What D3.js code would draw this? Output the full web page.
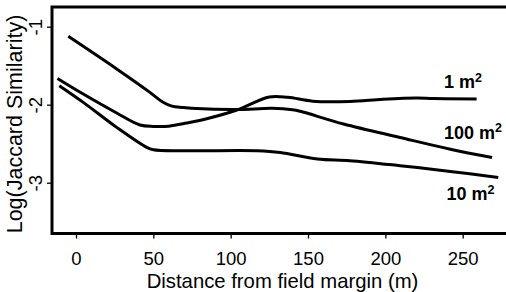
<!DOCTYPE html>
<html>
<head>
<meta charset="utf-8">
<script src="https://cdn.jsdelivr.net/npm/d3@7"></script>
<style>
  body { margin: 0; background: #fff; }
  text { font-family: "Liberation Sans", Arial, sans-serif; fill: #000; }
</style>
</head>
<body>
<div id="chart"></div>
<script>
// distance (m) and log(jaccard)
const distA = [-5, 26.3, 47.8, 56, 62, 69.4, 78, 104, 127, 140, 145, 173, 209.5, 242, 269]
const valA = [-1.124, -1.542, -1.842, -1.965, -2.018, -2.035, -2.05, -2.062, -2.047, -2.065, -2.085, -2.247, -2.42, -2.57, -2.676]

const distB = [-12, 4.7, 26.3, 41.4, 50, 60, 71.6, 84.5, 104, 125, 137, 153, 177, 198.5, 220.5, 231, 259]
const valB = [-1.663, -1.863, -2.106, -2.26, -2.278, -2.275, -2.235, -2.18, -2.068, -1.90, -1.905, -1.955, -1.958, -1.93, -1.914, -1.922, -1.927]

const distC = [-10.8, 4.7, 26.3, 45.7, 50, 69.4, 117, 132, 156, 177, 209.5, 242, 273]
const valC = [-1.756, -1.97, -2.291, -2.547, -2.577, -2.59, -2.59, -2.612, -2.696, -2.718, -2.782, -2.855, -2.932]

const xTicks = [0, 50, 100, 150, 200, 250]
const yTicks = [-1, -2, -3]

const series = [
  {name: '1 m', dist: distB, val: valB},
  {name: '100 m', dist: distA, val: valA},
  {name: '10 m', dist: distC, val: valC}
]
const labels = [
  {text: '1 m', x: 444, y: 88},
  {text: '100 m', x: 444, y: 138.5},
  {text: '10 m', x: 446.5, y: 200}
]

var width = 506, height = 292
var box = {left: 52, top: 7, right: 510, bottom: 233.5}

var x = d3.scaleLinear().domain([0, 250]).range([76, 462.7])
var y = d3.scaleLinear().domain([-1, -3]).range([26.7, 182.7])

var svg = d3.select('#chart').append('svg')
  .attr('width', width)
  .attr('height', height)

// frame
svg.append('rect')
  .attr('x', box.left)
  .attr('y', box.top)
  .attr('width', box.right - box.left)
  .attr('height', box.bottom - box.top)
  .style('fill', 'none')
  .style('stroke', '#000')
  .style('stroke-width', '3px')

var xAxis = svg.append('g')
  .attr('transform', `translate(0,${box.bottom})`)
  .call(d3.axisBottom(x).tickValues(xTicks).tickSize(5).tickPadding(13.5).tickSizeOuter(0))
xAxis.select('.domain').remove()
xAxis.selectAll('line').style('stroke', '#000').style('stroke-width', '1.3px')
xAxis.selectAll('text')
  .style('font-size', '18.5px')
  .style('font-family', '"Liberation Sans", Arial, sans-serif')

var yAxis = svg.append('g')
  .attr('transform', `translate(${box.left},0)`)
  .call(d3.axisLeft(y).tickValues(yTicks).tickSize(5).tickSizeOuter(0).tickFormat(function(d) { return String(d) }))
yAxis.select('.domain').remove()
yAxis.selectAll('line').style('stroke', '#000').style('stroke-width', '1.3px')
yAxis.selectAll('text')
  .attr('x', null)
  .attr('dy', null)
  .attr('text-anchor', 'middle')
  .attr('transform', 'translate(-10,0) rotate(-90)')
  .style('font-size', '18.5px')
  .style('font-family', '"Liberation Sans", Arial, sans-serif')

svg.append('text')
  .attr('x', 282.5)
  .attr('y', 287.5)
  .attr('text-anchor', 'middle')
  .style('font-size', '20.3px')
  .text('Distance from field margin (m)')

svg.append('text')
  .attr('transform', 'translate(21.5,124) rotate(-90)')
  .attr('text-anchor', 'middle')
  .style('font-size', '21.5px')
  .text('Log(Jaccard Similarity)')

var line = d3.line()
  .x(function(d) { return x(d[0]) })
  .y(function(d) { return y(d[1]) })
  .curve(d3.curveCatmullRom.alpha(0.5))

svg.selectAll('.series')
  .data(series)
  .enter().append('path')
  .attr('class', 'series')
  .attr('d', function(s) { return line(s.dist.map(function(d, i) { return [d, s.val[i]] })) })
  .style('fill', 'none')
  .style('stroke', '#000')
  .style('stroke-width', '3px')
  .style('stroke-linejoin', 'round')

var lab = svg.selectAll('.label')
  .data(labels)
  .enter().append('text')
  .attr('class', 'label')
  .attr('x', function(d) { return d.x })
  .attr('y', function(d) { return d.y })
  .style('font-size', '18px')
  .style('font-weight', 'bold')
lab.append('tspan').text(function(d) { return d.text })
lab.append('tspan')
  .attr('dy', '-0.5em')
  .style('font-size', '12.5px')
  .text('2')
</script>
</body>
</html>
